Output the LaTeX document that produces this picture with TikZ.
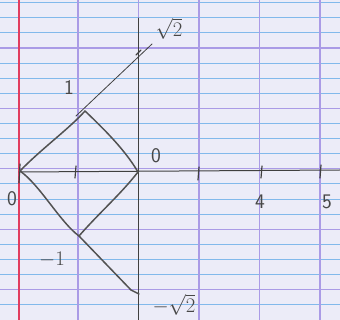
\documentclass[tikz,border=0pt]{standalone}
\usepackage{fontspec}
\definecolor{paper}{RGB}{236,236,248}
\definecolor{purpleline}{RGB}{170,155,230}
\definecolor{blueline}{RGB}{130,185,235}
\definecolor{marginred}{RGB}{225,60,95}
\begin{document}
\begin{tikzpicture}[x=1pt,y=-1pt,
  pencil/.style={draw=black!68, line width=1.5pt, line cap=round, line join=round},
  thinpencil/.style={draw=black!75, line width=0.8pt, line cap=round},
  ticky/.style={draw=black!75, line width=1.2pt, line cap=round},
  lbl/.style={text=black!72, font=\sffamily\huge, inner sep=0pt}]
\useasboundingbox (0,0) rectangle (340,320);
\fill[paper] (0,0) rectangle (340,320);
% paper ruling
\foreach \k in {-3,...,17}{
  \pgfmathsetmacro{\yy}{48+15.1*\k}
  \pgfmathtruncatemacro{\m}{mod(\k+40,4)}
  \ifnum\m=0
    \draw[draw=purpleline, line width=1.3pt] (0,\yy) -- (340,\yy);
  \else
    \draw[draw=blueline, line width=0.9pt] (0,\yy) -- (340,\yy);
  \fi
}
\foreach \xx in {78,138.5,199,259.5,320}{
  \draw[draw=purpleline, line width=1.3pt] (\xx,0) -- (\xx,320);
}
\draw[draw=marginred, line width=1.4pt] (19,0) -- (19,320);
% axes
\coordinate (ax0) at (19,172);
\coordinate (ax1) at (340,170);
\coordinate (vt) at (138,18);
\coordinate (vb) at (138,320);
\draw[thinpencil, line width=1pt] (ax0) -- (ax1);
\draw[thinpencil] (vt) -- (vb);
% ticks
\foreach \tx/\ta/\tb in {20/164/183, 76/166/178, 199/167/180, 262/166/178, 321/165/178}{
  \coordinate (ta\tx) at (\tx,\ta);
  \coordinate (tb\tx) at (\tx-1,\tb);
  \draw[ticky] (ta\tx) -- (tb\tx);
}
% diamond
\coordinate (O) at (20,171);
\coordinate (A) at (85,111);
\coordinate (B) at (138,172);
\coordinate (C) at (79,236);
\draw[pencil] (O) .. controls (40,150) and (70,128) .. (A) .. controls (105,130) and (125,150) .. (B);
\draw[pencil] (O) .. controls (40,185) and (60,222) .. (C) .. controls (100,212) and (120,195) .. (B);
% upper ray
\coordinate (P1) at (76,116);
\coordinate (P2) at (152,44);
\draw[thinpencil] (P1) -- (P2);
\coordinate (T1) at (136,55);
\coordinate (T2) at (141,50);
\draw[ticky] (T1) -- (T2);
% lower ray
\coordinate (D) at (131,290);
\coordinate (E) at (139,294);
\draw[pencil] (C) -- (D) -- (E);
% labels
\node[lbl] (l1) at (69,88) {1};
\node[lbl] (lz) at (156,156) {0};
\node[lbl] (lo) at (12,199) {0};
\node[lbl] (l4) at (260,202) {4};
\node[lbl] (l5) at (327,202) {5};
\node[lbl] (ls) at (169,29) {$\sqrt{2}$};
\node[lbl] (lm1) at (52,260) {$-1$};
\node[lbl] (lms) at (174,305) {$-\sqrt{2}$};
\end{tikzpicture}
\end{document}
